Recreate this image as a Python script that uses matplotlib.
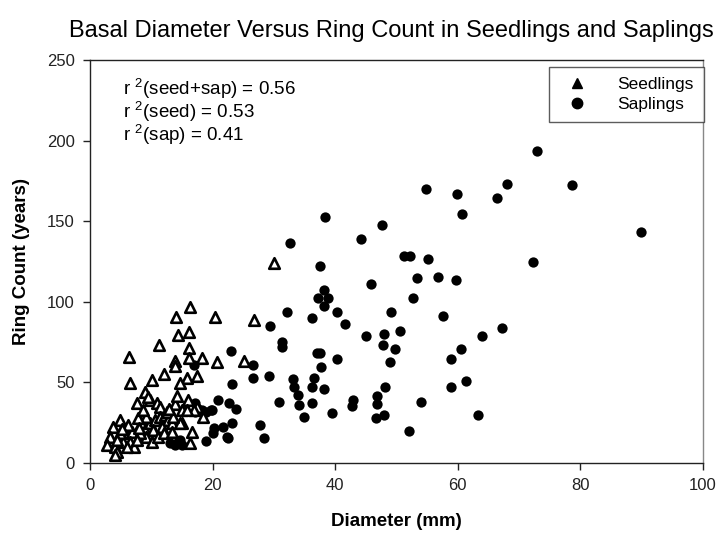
import matplotlib.pyplot as plt
from matplotlib.lines import Line2D

plt.rcParams['font.family'] = ['Liberation Sans', 'DejaVu Sans']
plt.rcParams['mathtext.default'] = 'regular'

# seedlings: basal diameter (mm), ring count (years)
seed_diam = [30.1, 16.3, 14.1, 20.4, 26.8, 14.4, 16.2, 11.3, 6.4, 16.1, 16.1, 18.2,
             13.9, 13.9, 20.7, 25.2, 12.1, 17.4, 15.8, 14.7, 6.6, 10.1, 8.9, 7.6,
             9.8, 10.9, 11.4, 13.9, 16.0, 17.4, 15.0, 16.9, 18.5, 16.6, 16.3, 15.0,
             4.9, 3.8, 3.3, 2.7, 4.1, 4.4, 4.1, 5.7, 6.8, 6.5, 7.1, 5.4, 6.0, 8.4,
             9.0, 9.8, 10.6, 11.4, 12.2, 12.8, 13.3, 11.7, 10.3, 9.2, 10.1, 11.1,
             12.0, 13.3, 14.7, 12.5, 13.6, 9.2, 8.2, 7.6, 4.9, 4.4, 6.2, 7.8, 8.0,
             9.5, 15.8, 5.2, 8.6, 12.9, 14.2]
seed_rings = [123.9, 96.6, 90.4, 90.4, 88.7, 79.4, 81.5, 73.2, 65.9, 71.2, 65.0, 65.0,
              63.5, 60.2, 62.5, 63.3, 55.2, 54.2, 52.5, 49.4, 49.8, 51.5, 44.2, 37.0,
              39.1, 37.0, 34.9, 36.6, 39.1, 34.9, 32.9, 32.9, 28.7, 19.4, 12.2, 24.6,
              26.7, 22.5, 16.3, 11.2, 10.1, 7.0, 5.0, 18.4, 19.4, 13.2, 10.1, 13.2,
              10.1, 24.6, 20.5, 24.6, 26.7, 28.7, 29.8, 26.7, 24.6, 22.5, 20.5, 16.3,
              13.2, 16.3, 18.4, 19.4, 24.6, 31.8, 28.7, 28.7, 18.4, 14.3, 18.4, 14.3,
              23.5, 28.0, 22.0, 41.0, 32.9, 21.0, 33.0, 33.8, 41.5]

# saplings: basal diameter (mm), ring count (years)
sap_diam = [72.9, 54.8, 59.9, 60.7, 68.0, 66.5, 78.7, 89.9, 72.3, 47.6, 44.2, 38.4,
            32.7, 37.5, 51.3, 52.2, 55.1, 45.8, 53.3, 56.8, 59.8, 52.7, 49.1, 57.6,
            40.3, 41.6, 45.1, 47.9, 50.6, 47.8, 49.7, 48.9, 64.0, 67.3, 60.5, 58.9,
            40.3, 48.2, 46.8, 46.8, 43.0, 42.8, 46.7, 48.0, 54.0, 52.0, 58.9, 61.3,
            63.4, 38.2, 37.2, 38.9, 38.2, 32.1, 36.2, 29.4, 31.4, 31.3, 37.0, 37.5,
            37.7, 23.0, 26.6, 26.6, 29.2, 23.2, 33.1, 33.3, 36.6, 36.2, 38.2, 34.0,
            34.1, 36.3, 30.8, 35.0, 39.5, 20.9, 22.7, 23.8, 19.8, 17.4, 18.2, 17.0,
            20.3, 21.7, 23.1, 20.1, 22.6, 19.0, 27.7, 28.4, 14.7, 17.1, 19.0, 19.9,
            17.1, 22.3, 14.4, 13.1, 13.9, 15.0]
sap_rings = [193.5, 169.8, 166.9, 154.7, 172.9, 164.6, 172.5, 143.5, 124.5, 147.6, 138.8, 152.6,
             136.7, 122.4, 128.6, 128.6, 126.6, 111.2, 114.6, 115.6, 113.3, 102.4, 93.9, 91.0,
             93.5, 86.2, 79.0, 80.0, 81.9, 73.0, 70.7, 62.8, 79.0, 83.9, 70.7, 64.7,
             64.5, 47.0, 41.7, 36.6, 39.1, 35.6, 27.7, 29.6, 37.7, 19.7, 47.0, 51.1,
             29.8, 107.3, 102.5, 102.2, 97.4, 93.9, 90.2, 85.0, 75.2, 72.2, 68.0, 68.0,
             59.8, 69.7, 60.8, 52.9, 54.0, 49.0, 51.9, 47.3, 52.9, 47.3, 45.9, 42.2,
             36.0, 37.0, 38.0, 28.7, 30.8, 39.1, 37.4, 33.5, 32.9, 33.9, 32.9, 60.8,
             21.5, 22.5, 24.6, 18.4, 15.7, 13.8, 23.6, 15.7, 14.3, 37.0, 31.8, 32.9,
             31.8, 16.3, 13.2, 12.2, 11.2, 10.9]

r2_labels = ['r $^{2}$(seed+sap) = 0.56', 'r $^{2}$(seed) = 0.53', 'r $^{2}$(sap) = 0.41']

fig = plt.figure(figsize=(7.23, 5.37), dpi=100)
ax = fig.add_axes([0.1245, 0.1378, 0.8475, 0.7504])

ax.scatter(sap_diam, sap_rings, s=55, marker='o', color='black', linewidths=0, zorder=3)
ax.scatter(seed_diam, seed_rings, s=58, marker='^', facecolors='white',
           edgecolors='black', linewidths=1.9, zorder=4)

ax.set_xlim(0, 100)
ax.set_ylim(0, 250)
ax.set_xticks([0, 20, 40, 60, 80, 100])
ax.set_yticks([0, 50, 100, 150, 200, 250])
ax.tick_params(direction='out', length=5, width=1, labelsize=12, colors='#222222', pad=6)
for sp in ax.spines.values():
    sp.set_color('#222222')
    sp.set_linewidth(1)
ax.spines['right'].set_color('#888888')

ax.set_xlabel('Diameter (mm)', fontsize=13.5, fontweight='bold', labelpad=14)
ax.set_ylabel('Ring Count (years)', fontsize=13.5, fontweight='bold', labelpad=12)
fig.suptitle('Basal Diameter Versus Ring Count in Seedlings and Saplings',
             fontsize=17, x=0.541, y=0.963)

for i, t in enumerate(r2_labels):
    ax.text(0.054, 0.958 - i * 0.057, t, transform=ax.transAxes, fontsize=13.5,
            va='top', ha='left')

handles = [Line2D([], [], marker='^', color='black', linestyle='none', markersize=7),
           Line2D([], [], marker='o', color='black', linestyle='none', markersize=7.5)]
leg = ax.legend(handles, ['Seedlings', 'Saplings'], loc='upper right',
                bbox_to_anchor=(1.002, 0.983), fontsize=12.5, frameon=True,
                fancybox=False, edgecolor='#333333', borderpad=0.6,
                handletextpad=1.3, labelspacing=0.25, borderaxespad=0)
leg.get_frame().set_linewidth(1)

fig.savefig('out.png', dpi=100)
